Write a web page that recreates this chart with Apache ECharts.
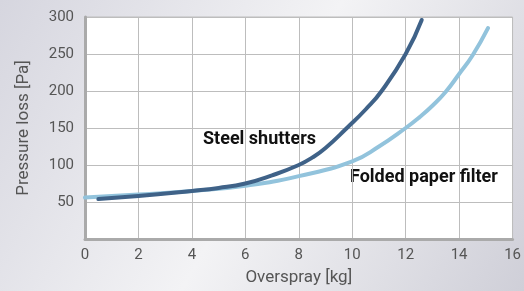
<!DOCTYPE html>
<html>
<head>
<meta charset="utf-8">
<script src="https://cdn.jsdelivr.net/npm/echarts@6/dist/echarts.min.js"></script>
<style>
  html, body { margin: 0; padding: 0; }
  #chart { width: 524px; height: 291px; }
</style>
</head>
<body>
<div id="chart"></div>
<script>
// Steel shutters
const steelX = [0.5, 2, 4, 5, 6, 7, 8, 8.5, 9, 9.8, 10.5, 11.1, 12, 12.6]
const steelY = [54, 58, 65, 69, 75, 86, 100, 110, 123, 150, 175, 200, 250, 296]
// Folded paper filter
const paperX = [0, 2, 4, 6, 8, 10, 11, 12, 12.5, 13, 13.5, 14, 14.5, 15.08]
const paperY = [56, 60, 65, 72, 85, 105, 125, 150, 164, 180, 199, 223, 248, 285]

const xTicks = [0, 2, 4, 6, 8, 10, 12, 14, 16]
const yTicks = [50, 100, 150, 200, 250, 300]

const font = 'Roboto, "DejaVu Sans", sans-serif'

const chart = echarts.init(document.getElementById('chart'))

chart.setOption({
  animation: false,
  backgroundColor: {
    type: 'linear', x: 0, y: 0, x2: 1, y2: 1,
    colorStops: [
      { offset: 0, color: '#d6d6df' },
      { offset: 0.5, color: '#f3f3f5' },
      { offset: 1, color: '#cfcfd8' }
    ]
  },
  grid: {
    left: 85,
    right: 10,
    top: 17,
    bottom: 49,
    show: true,
    backgroundColor: '#ffffff',
    borderColor: '#bdbdbd',
    borderWidth: 1
  },
  xAxis: {
    type: 'value',
    min: 0,
    max: 16,
    interval: 2,
    name: 'Overspray [kg]',
    nameLocation: 'middle',
    nameGap: 30,
    nameTextStyle: { color: '#555', fontSize: 17, fontFamily: font },
    axisLine: { lineStyle: { color: '#aaaaaa', width: 3 } },
    axisTick: { show: false },
    axisLabel: {
      color: '#555', fontSize: 15, fontFamily: font, margin: 9,
      formatter: v => xTicks.includes(v) ? String(v) : ''
    },
    splitLine: { lineStyle: { color: '#bdbdbd', width: 1 } }
  },
  yAxis: {
    type: 'value',
    min: 0,
    max: 300,
    interval: 50,
    name: 'Pressure loss [Pa]',
    nameLocation: 'middle',
    nameGap: 53,
    nameTextStyle: { color: '#555', fontSize: 17, fontFamily: font },
    axisLine: { show: true, lineStyle: { color: '#aaaaaa', width: 3 } },
    axisTick: { show: false },
    axisLabel: {
      color: '#555', fontSize: 15, fontFamily: font, margin: 11,
      formatter: v => yTicks.includes(v) ? String(v) : ''
    },
    splitLine: { lineStyle: { color: '#bdbdbd', width: 1 } }
  },
  series: [
    {
      name: 'Folded paper filter',
      type: 'line',
      smooth: 0.5,
      symbol: 'none',
      lineStyle: { color: '#92c3dc', width: 4, cap: 'round' },
      data: paperX.map((x, i) => [x, paperY[i]])
    },
    {
      name: 'Steel shutters',
      type: 'line',
      smooth: 0.5,
      symbol: 'none',
      lineStyle: { color: '#3f6288', width: 4, cap: 'round' },
      data: steelX.map((x, i) => [x, steelY[i]])
    }
  ],
  graphic: [
    {
      type: 'text', left: 203, top: 130,
      style: { text: 'Steel shutters', fill: '#111', font: 'bold 18px ' + font }
    },
    {
      type: 'text', left: 350, top: 168,
      style: { text: 'Folded paper filter', fill: '#111', font: 'bold 18px ' + font }
    }
  ]
})
</script>
</body>
</html>
